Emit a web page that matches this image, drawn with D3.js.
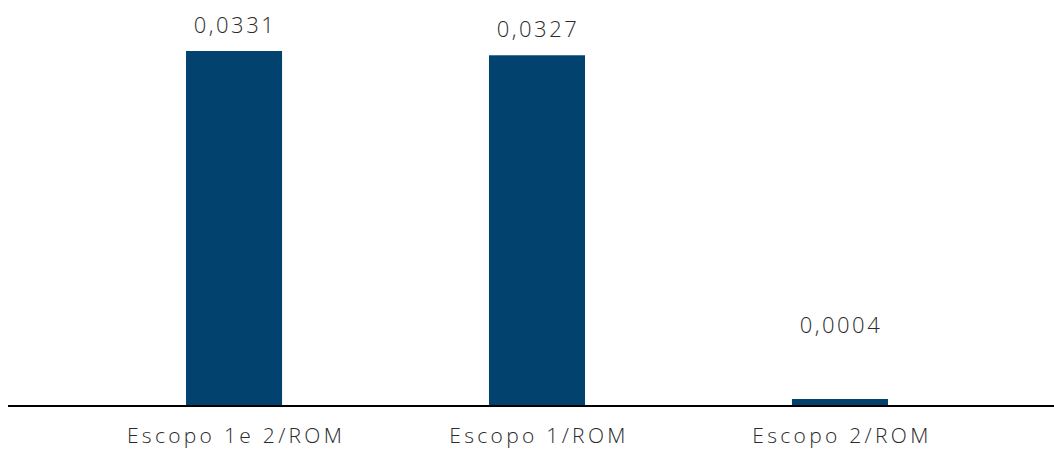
<!DOCTYPE html>
<html><head><meta charset="utf-8">
<script src="https://cdn.jsdelivr.net/npm/d3@7"></script>
<style>body{margin:0;background:#fff;} text{font-family:"Open Sans",sans-serif;font-weight:300;fill:#2b2b2b;}</style>
</head><body>
<svg id="c" width="1054" height="449"></svg>
<script>
const categories = ["Escopo 1e 2/ROM", "Escopo 1/ROM", "Escopo 2/ROM"];
const values = [0.0331, 0.0327, 0.0004];
const valueLabels = ["0,0331", "0,0327", "0,0004"];

const svg = d3.select("#c");
const baseY = 405;
const x = d3.scaleBand().domain(categories).range([20, 1054]).paddingInner(0.683).paddingOuter(0.548);
const y = d3.scaleLinear().domain([0, 0.0331]).range([baseY, 51]);
const barTop = d => Math.min(y(d), baseY - 6);

svg.selectAll("rect.bar").data(values).join("rect")
  .attr("x", (d,i) => x(categories[i]))
  .attr("width", x.bandwidth())
  .attr("y", d => barTop(d))
  .attr("height", d => baseY - barTop(d))
  .attr("fill", "#01426f");

svg.selectAll("text.val").data(values).join("text")
  .attr("x", (d,i) => x(categories[i]) + x.bandwidth()/2 + 1)
  .attr("y", d => Math.min(barTop(d) - 18, baseY - 72))
  .attr("text-anchor", "middle")
  .style("font-size", "22px")
  .style("letter-spacing", "2.5px")
  .text((d,i) => valueLabels[i]);

svg.append("line").attr("x1", 8).attr("x2", 1054).attr("y1", baseY+1).attr("y2", baseY+1)
  .attr("stroke", "#000").attr("stroke-width", 2);

svg.selectAll("text.cat").data(categories).join("text")
  .attr("x", d => x(d) + x.bandwidth()/2 + 2)
  .attr("y", 443)
  .attr("text-anchor", "middle")
  .style("font-size", "21px")
  .style("letter-spacing", "3.3px")
  .text(d => d);
</script>
</body></html>
